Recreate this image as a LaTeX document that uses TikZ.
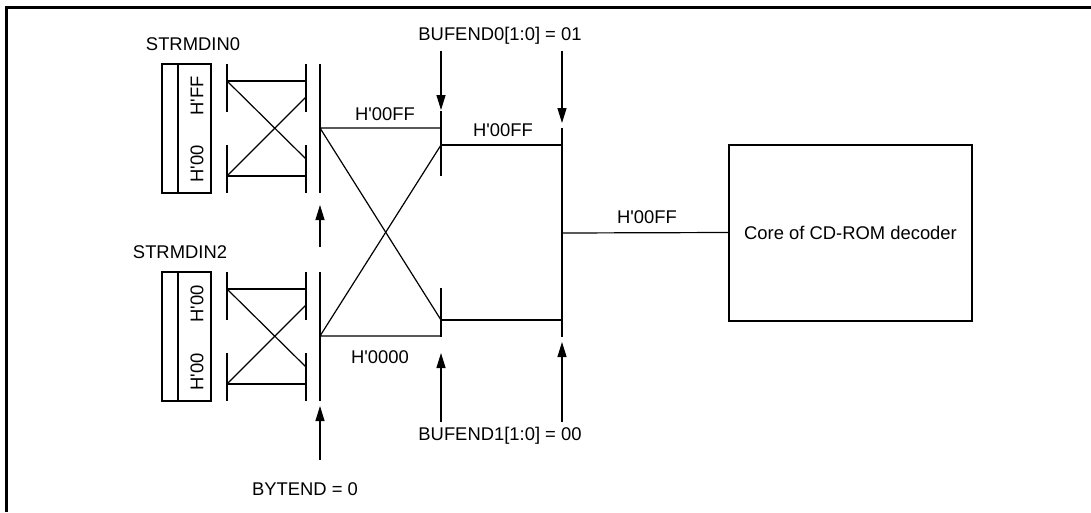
\documentclass[tikz,border=0pt]{standalone}
\usepackage{fontspec}
\setmainfont{Liberation Sans}
\usetikzlibrary{arrows.meta,positioning}
\newcommand{\hq}{\textquotesingle}
\tikzset{
  sig/.style={line width=1.2pt},
  reg/.style={line width=1.7pt},
  lbl/.style={font=\fontsize{18.4}{22}\selectfont, inner sep=0pt, anchor=base},
  vlbl/.style={font=\fontsize{18.4}{22}\selectfont, inner sep=0pt, rotate=90},
  ctl/.style={line width=1.2pt, -{Triangle[length=15pt, width=9pt]}},
}

\begin{document}
\begin{tikzpicture}[x=1pt, y=-1pt]
\useasboundingbox (0,0) rectangle (1091,512);
% outer frame (only top and left edges show)
\draw[line width=3pt] (6,512) -- (6,7.5) -- (1091,7.5);

% two input registers with their byte swap stage
\foreach \y/\nm/\lx/\hi/\lo in {0/STRMDIN0/193/H\hq FF/H\hq 00, 208/STRMDIN2/180/H\hq 00/H\hq 00} {
  \node[lbl] (name\y) at (\lx,50+\y) {\nm};
  \draw[reg] (161.7,64+\y) rectangle (211,193+\y);
  \draw[reg] (178,64+\y) -- (178,193+\y);
  \node[vlbl] (hi\y) at (197,96+\y) {\hi};
  \node[vlbl] (lo\y) at (197,164+\y) {\lo};
  \draw[sig] (227,64+\y) -- (227,112+\y) (227,145+\y) -- (227,193+\y);
  \draw[sig] (306,64+\y) -- (306,112+\y) (306,145+\y) -- (306,193+\y);
  \draw[sig] (227,81+\y) -- (306,81+\y) (227,176+\y) -- (306,176+\y);
  \draw[sig] (227,81+\y) -- (306,159+\y) (227,176+\y) -- (306,97+\y);
  \draw[sig] (320,64+\y) -- (320,193+\y);
}

% byte end control
\node[lbl] (bytend) at (305,495) {BYTEND = 0};
\coordinate (byt0a) at (320,247);
\coordinate (byt0b) at (320,205);
\coordinate (byt2a) at (320,460);
\coordinate (byt2b) at (320,406);
\draw[ctl] (byt0a) -- (byt0b);
\draw[ctl] (byt2a) -- (byt2b);

% word swap stage
\coordinate (busA) at (320,128);
\coordinate (busB) at (320,336);
\coordinate (muxAa) at (441,128);
\coordinate (muxAb) at (441,145);
\coordinate (muxAc) at (441,320);
\coordinate (muxAd) at (441,336);
\draw[sig] (441,111) -- (441,176);
\draw[sig] (441,288) -- (441,337);
\draw[sig] (busA) -- (muxAa) (busA) -- (muxAc);
\draw[sig] (busB) -- (muxAd) (busB) -- (muxAb);
\node[lbl] (wA) at (385,120) {H\hq 00FF};
\node[lbl] (wB) at (380,363) {H\hq 0000};

% buffer end select
\coordinate (muxBa) at (562,145);
\coordinate (muxBm) at (562,233);
\coordinate (muxBc) at (562,320);
\draw[sig] (562,128) -- (562,337);
\draw[sig] (muxAb) -- (muxBa);
\draw[sig] (muxAc) -- (muxBc);
\node[lbl] (wC) at (503,136.7) {H\hq 00FF};

\node[lbl] (bufend0) at (500,40.7) {BUFEND0[1:0] = 01};
\node[lbl] (bufend1) at (500,440.5) {BUFEND1[1:0] = 00};
\foreach \x/\t in {441/110, 562/123} {
  \coordinate (b0s\x) at (\x,51);
  \coordinate (b0t\x) at (\x,\t);
  \draw[ctl] (b0s\x) -- (b0t\x);
}
\foreach \x/\t in {441/353, 562/342} {
  \coordinate (b1s\x) at (\x,422);
  \coordinate (b1t\x) at (\x,\t);
  \draw[ctl] (b1s\x) -- (b1t\x);
}

% decoder core
\node[draw, line width=2pt, minimum width=243pt, minimum height=176pt,
  font=\fontsize{18.4}{22}\selectfont] (core) at (850.5,232.5) {Core of CD-ROM decoder};
\draw[sig] (muxBm) -- (core.west);
\node[lbl] (wD) at (647,223.6) {H\hq 00FF};
\end{tikzpicture}
\end{document}
